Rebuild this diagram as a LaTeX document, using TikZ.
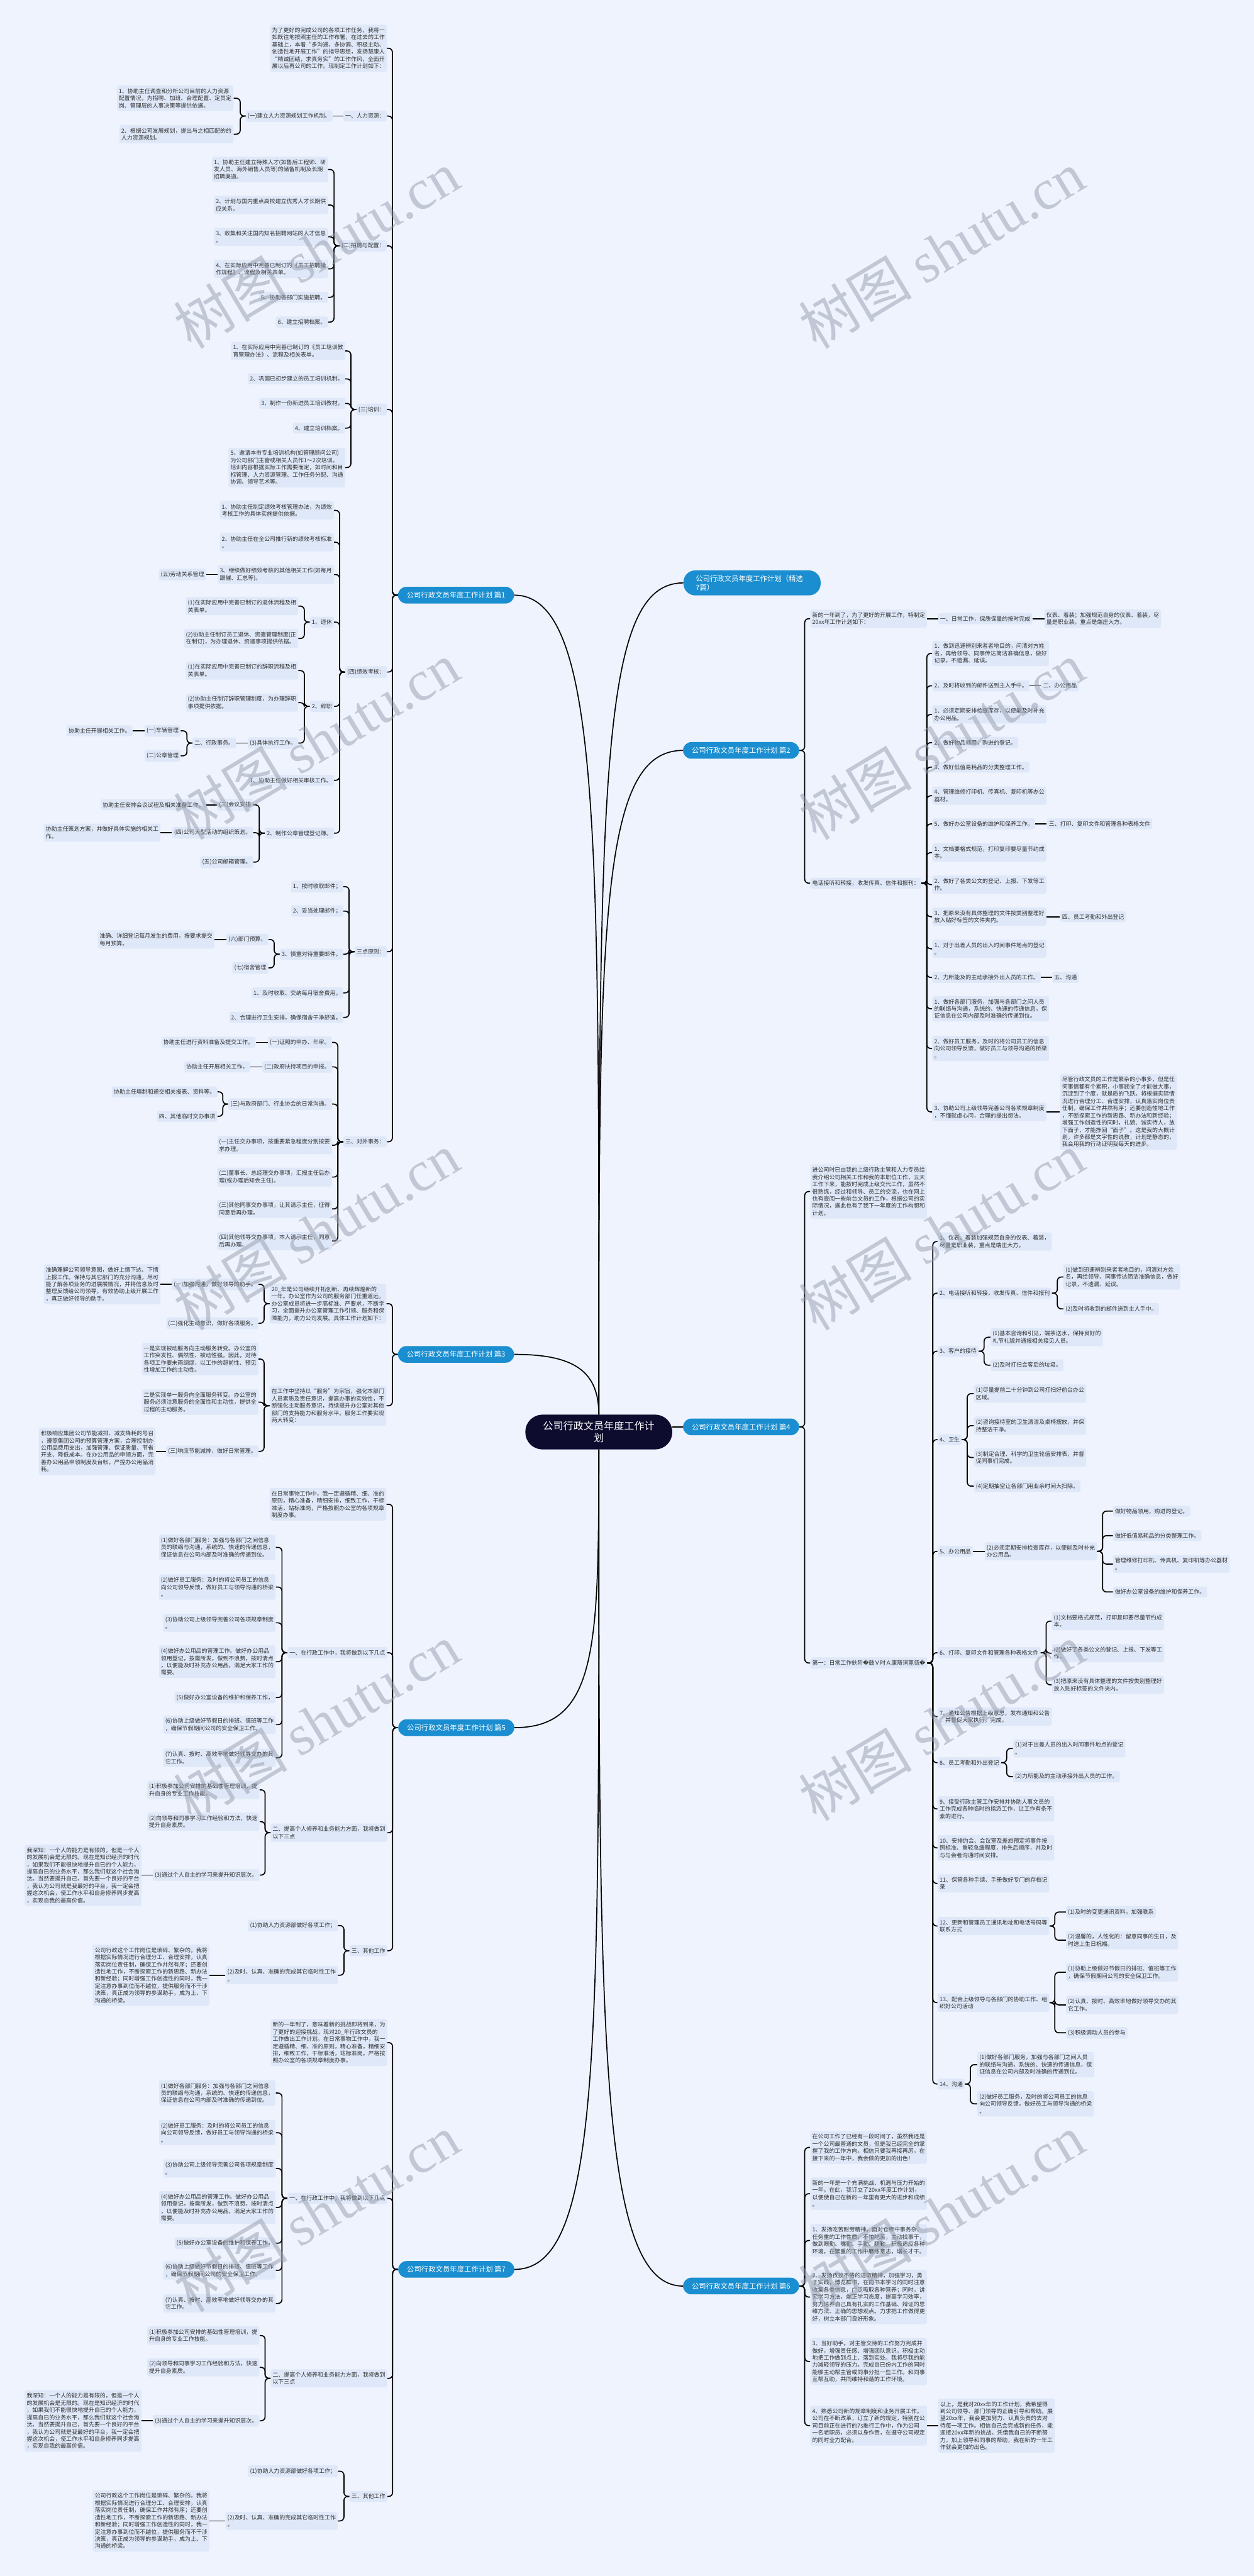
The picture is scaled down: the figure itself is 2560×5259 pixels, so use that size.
\documentclass[tikz,border=0pt]{standalone}
\usepackage{fontspec}
\setmainfont{Noto Sans CJK SC}
\newfontfamily\repfont{DejaVu Sans}
\newfontfamily\wmfont{Liberation Serif}
\usetikzlibrary{positioning}
\definecolor{pagebg}{RGB}{238,243,253}
\definecolor{boxfill}{RGB}{223,232,248}
\definecolor{textgray}{RGB}{48,48,48}
\definecolor{branchblue}{RGB}{26,142,208}
\definecolor{rootnavy}{RGB}{13,11,46}
\definecolor{wmgray}{RGB}{150,156,172}
\tikzset{
  leafbox/.style={fill=boxfill,text=textgray,rounded corners=2pt,inner xsep=2pt,inner ysep=2.9pt,align=left,font=\fontsize{5.75}{7.35}\selectfont},
  lleaf/.style={leafbox,anchor=east},
  rleaf/.style={leafbox,anchor=west},
  pillbox/.style={fill=branchblue,text=white,rounded corners=8.5pt,minimum width=118.5pt,minimum height=17pt,inner sep=0pt,font=\fontsize{7.3}{9}\selectfont},
  rootbox/.style={fill=rootnavy,text=white,rounded corners=17.5pt,minimum width=150pt,minimum height=35.5pt,align=center,font=\fontsize{10.35}{12.5}\selectfont},
  link/.style={draw=black,line width=1.1pt,rounded corners=4pt},
  wmark/.style={text=wmgray,opacity=0.5,rotate=31,inner sep=0pt,font=\fontsize{58}{60}\selectfont}
}
% bracket links: parent right of its children, or left of them
\newcommand{\leftlinks}[2]{\foreach \ch in {#2} {\draw[link] (#1.west) -- ++(-11,0) |- (\ch.east);}}
\newcommand{\rightlinks}[2]{\foreach \ch in {#2} {\draw[link] (#1.east) -- ++(11,0) |- (\ch.west);}}
% the part that plan 5 and plan 7 share
\newcommand{\worktail}[3]{%
  \begin{scope}[yshift=#3]
    \node[lleaf] (#1a) at (791,3374) {一、在行政工作中，我将做到以下几点};
    \node[lleaf] (#1a1) at (563,3159) {(1)做好各部门服务：加强与各部门之间信息\\员的联络与沟通，系统的、快速的传递信息，\\保证信息在公司内部及时准确的传递到位。};
    \node[lleaf] (#1a2) at (563,3240) {(2)做好员工服务：及时的将公司员工的信息\\向公司领导反馈，做好员工与领导沟通的桥梁\\。};
    \node[lleaf] (#1a3) at (563,3313) {(3)协助公司上级领导完善公司各项规章制度\\。};
    \node[lleaf] (#1a4) at (563,3392.5) {(4)做好办公用品的管理工作。做好办公用品\\领用登记，按需所发，做到不浪费，按时清点\\，以便能及时补充办公用品，满足大家工作的\\需要。};
    \node[lleaf] (#1a5) at (563,3465.5) {(5)做好办公室设备的维护和保养工作，};
    \node[lleaf] (#1a6) at (563,3521) {(6)协助上级做好节假日的排班、值班等工作\\，确保节假期间公司的安全保卫工作。};
    \node[lleaf] (#1a7) at (563,3588.5) {(7)认真、按时、高效率地做好领导交办的其\\它工作。};
    \node[lleaf] (#1b) at (791,3741.5) {二、提高个人修养和业务能力方面，我将做到\\以下三点};
    \node[lleaf] (#1b1) at (530,3654) {(1)积极参加公司安排的基础性管理培训，提\\升自身的专业工作技能。};
    \node[lleaf] (#1b2) at (530,3719) {(2)向领导和同事学习工作经验和方法，快速\\提升自身素质。};
    \node[lleaf] (#1b3) at (530,3828) {(3)通过个人自主的学习来提升知识层次。};
    \node[lleaf] (#1b4) at (289,3828.5) {我深知：一个人的能力是有限的，但是一个人\\的发展机会是无限的。现在是知识经济的时代\\，如果我们不能很快地提升自已的个人能力，\\提高自已的业务水平，那么我们就这个社会淘\\汰。当然要提升自己，首先要一个良好的平台\\，我认为公司就是我最好的平台，我一定会把\\握这次机会，使工作水平和自身修养同步提高\\，实现自我的最高价值。};
    \node[lleaf] (#1c) at (791,3982.5) {三、其他工作};
    \node[lleaf] (#1c1) at (690,3931) {(1)协助人力资源部做好各项工作；};
    \node[lleaf] (#1c2) at (690,4032.5) {(2)及时、认真、准确的完成其它临时性工作\\。};
    \node[lleaf] (#1c3) at (428,4032.5) {公司行政这个工作岗位是琐碎、繁杂的。我将\\根据实际情况进行合理分工、合理安排，认真\\落实岗位责任制，确保工作井然有序；还要创\\造性地工作，不断探索工作的新思路、新办法\\和新经验；同时增强工作创造性的同时，我一\\定注意办事到位而不越位，提供服务而不干涉\\决策，真正成为领导的参谋助手，成为上、下\\沟通的桥梁。};
  \end{scope}
  \leftlinks{#2}{#1a,#1b,#1c}
  \leftlinks{#1a}{#1a1,#1a2,#1a3,#1a4,#1a5,#1a6,#1a7}
  \leftlinks{#1b}{#1b1,#1b2,#1b3}
  \draw[link] (#1b3.west) -- (#1b3.west -| #1b4.east);
  \leftlinks{#1c}{#1c1,#1c2}
  \draw[link] (#1c2.west) -- (#1c2.west -| #1c3.east);
}

\begin{document}
\begin{tikzpicture}[x=0.5pt,y=-0.5pt]
  \useasboundingbox (0,0) rectangle (2560,5259);
  \fill[pagebg] (0,0) rectangle (2560,5259);

  % centre and the eight plans
  \node[rootbox] (root) at (1222.5,2923.5) {公司行政文员年度工作计\\划};
  \node[pillbox] (p1) at (931,1215) {公司行政文员年度工作计划 篇1};
  \node[pillbox] (p3) at (931,2765) {公司行政文员年度工作计划 篇3};
  \node[pillbox] (p5) at (931.5,3527) {公司行政文员年度工作计划 篇5};
  \node[pillbox] (p7) at (931.5,4633) {公司行政文员年度工作计划 篇7};
  \node[pillbox,anchor=west,align=left,text width=115pt,inner xsep=12.5pt,minimum height=25.5pt,rounded corners=12pt] (psel) at (1395,1190) {公司行政文员年度工作计划（精选\\7篇）};
  \node[pillbox] (p2) at (1513,1532) {公司行政文员年度工作计划 篇2};
  \node[pillbox] (p4) at (1513,2913) {公司行政文员年度工作计划 篇4};
  \node[pillbox] (p6) at (1513,4667) {公司行政文员年度工作计划 篇6};
  \draw[link] (root.north) .. controls +(0,-1150) and +(180,0) .. (p1.east);
  \draw[link] (root.north) .. controls +(0,-90) and +(120,0) .. (p3.east);
  \draw[link] (root.south) .. controls +(0,400) and +(170,0) .. (p5.east);
  \draw[link] (root.south) .. controls +(0,1200) and +(180,0) .. (p7.east);
  \draw[link] (root.north) .. controls +(0,-1300) and +(-170,0) .. (psel.west);
  \draw[link] (root.north) .. controls +(0,-1000) and +(-170,0) .. (p2.west);
  \draw[link] (root.east |- p4.west) -- (p4.west);
  \draw[link] (root.south) .. controls +(0,1200) and +(-170,0) .. (p6.west);

  % plan 1
  \node[lleaf] (a0) at (790,98.5) {为了更好的完成公司的各项工作任务，我将一\\如既往地按照主任的工作布署，在过去的工作\\基础上，本着“多沟通、多协调、积极主动、\\创造性地开展工作”的指导思想，发扬慧康人\\“精诚团结，求真务实”的工作作风，全面开\\展以后再公司的工作。现制定工作计划如下：};
  \node[lleaf] (a1) at (790,237) {一、人力资源：};
  \node[lleaf] (a11) at (679,237) {(一)建立人力资源规划工作机制。};
  \node[lleaf] (a111) at (477,200.5) {1、协助主任调查和分析公司目前的人力资源\\配置情况，为招聘、加班、合理配置、定员定\\岗、管理层的人事决策等提供依据。};
  \node[lleaf] (a112) at (477,274) {2、根据公司发展规划，提出与之相匹配的的\\人力资源规划。};
  \node[lleaf] (a2) at (790,502) {(二)招聘与配置：};
  \node[lleaf] (a21) at (670,346) {1、协助主任建立特殊人才(如售后工程师、研\\发人员、海外销售人员等)的储备机制及长期\\招聘渠道。};
  \node[lleaf] (a22) at (670,418.5) {2、计划与国内重点高校建立优秀人才长期供\\应关系。};
  \node[lleaf] (a23) at (670,483.5) {3、收集和关注国内知名招聘网站的人才信息\\。};
  \node[lleaf] (a24) at (670,549) {4、在实际应用中完善已制订的《员工招聘操\\作规程》、流程及相关表单。};
  \node[lleaf] (a25) at (670,607) {5、协助各部门实施招聘。};
  \node[lleaf] (a26) at (670,657.5) {6、建立招聘档案。};
  \node[lleaf] (a3) at (790,836) {(三)培训：};
  \node[lleaf] (a31) at (705,716.5) {1、在实际应用中完善已制订的《员工培训教\\育管理办法》、流程及相关表单。};
  \node[lleaf] (a32) at (705,773.5) {2、巩固已初步建立的员工培训机制。};
  \node[lleaf] (a33) at (705,823.5) {3、制作一份新进员工培训教材。};
  \node[lleaf] (a34) at (705,874) {4、建立培训档案。};
  \node[lleaf] (a35) at (705,954.5) {5、邀请本市专业培训机构(如管理顾问公司)\\为公司部门主管或相关人员作1～2次培训。\\培训内容根据实际工作需要而定，如时间和目\\标管理、人力资源管理、工作任务分配、沟通\\协调、领导艺术等。};
  \node[lleaf] (a4) at (790,1372) {(四)绩效考核：};
  \node[lleaf] (a41) at (682,1042) {1、协助主任制定绩效考核管理办法，为绩效\\考核工作的具体实施提供依据。};
  \node[lleaf] (a42) at (682,1107) {2、协助主任在全公司推行新的绩效考核标准\\。};
  \node[lleaf] (a43) at (682,1173) {3、继续做好绩效考核的其他相关工作(如每月\\跟催、汇总等)。};
  \node[lleaf] (a431) at (421,1173) {(五)劳动关系管理};
  \node[lleaf] (a44) at (682,1270) {1、退休};
  \node[lleaf] (a441) at (609,1237.5) {(1)在实际应用中完善已制订的退休流程及相\\关表单。};
  \node[lleaf] (a442) at (609,1303.5) {(2)协助主任制订员工退休、资遣管理制度(正\\在制订)，为办理退休、资遣事项提供依据。};
  \node[lleaf] (a45) at (682,1442) {2、辞职};
  \node[lleaf] (a451) at (609,1369) {(1)在实际应用中完善已制订的辞职流程及相\\关表单。};
  \node[lleaf] (a452) at (609,1434.5) {(2)协助主任制订辞职管理制度，为办理辞职\\事项提供依据。};
  \node[lleaf] (a453) at (609,1517) {(3)具体执行工作。};
  \node[lleaf] (a454) at (482,1517) {二、行政事务。};
  \node[lleaf] (a455) at (369,1492) {(一)车辆管理};
  \node[lleaf] (a456) at (271,1492) {协助主任开展相关工作。};
  \node[lleaf] (a457) at (369,1543) {(二)公章管理};
  \node[lleaf] (a46) at (682,1593) {1、协助主任做好相关审核工作。};
  \node[lleaf] (a47) at (682,1701) {2、制作公章管理登记簿。};
  \node[lleaf] (a471) at (517,1643) {(三)会议安排};
  \node[lleaf] (a4711) at (421,1643) {协助主任安排会议议程及相关准备工作。};
  \node[lleaf] (a472) at (517,1700) {(四)公司大型活动的组织策划。};
  \node[lleaf] (a4721) at (328,1700) {协助主任策划方案，并做好具体实施的相关工\\作。};
  \node[lleaf] (a473) at (517,1760) {(五)公司邮箱管理。};
  \node[lleaf] (a5) at (790,1943) {三点原则：};
  \node[lleaf] (a51) at (701,1810) {1、按时收取邮件；};
  \node[lleaf] (a52) at (701,1860) {2、妥当处理邮件；};
  \node[lleaf] (a53) at (701,1948) {3、慎重对待重要邮件。};
  \node[lleaf] (a531) at (548,1918) {(六)部门预算。};
  \node[lleaf] (a5311) at (438,1918) {准确、详细登记每月发生的费用，按要求提交\\每月预算。};
  \node[lleaf] (a532) at (548,1976) {(七)宿舍管理};
  \node[lleaf] (a54) at (701,2027) {1、及时收取、交纳每月宿舍费用。};
  \node[lleaf] (a55) at (701,2077) {2、合理进行卫生安排，确保宿舍干净舒适。};
  \node[lleaf] (a6) at (790,2331) {三、对外事务：};
  \node[lleaf] (a61) at (678,2128) {(一)证照的申办、年审。};
  \node[lleaf] (a611) at (522,2128) {协助主任进行资料准备及提交工作。};
  \node[lleaf] (a62) at (678,2178) {(二)政府扶持项目的申报。};
  \node[lleaf] (a621) at (511,2178) {协助主任开展相关工作。};
  \node[lleaf] (a63) at (678,2254) {(三)与政府部门、行业协会的日常沟通。};
  \node[lleaf] (a631) at (444,2229) {协助主任填制和递交相关报表、资料等。};
  \node[lleaf] (a632) at (444,2279) {四、其他临时交办事项};
  \node[lleaf] (a64) at (678,2338) {(一)主任交办事项，按重要紧急程度分别按要\\求办理。};
  \node[lleaf] (a65) at (678,2403) {(二)董事长、总经理交办事项，汇报主任后办\\理(或办理后知会主任)。};
  \node[lleaf] (a66) at (678,2468) {(三)其他同事交办事项，让其请示主任，征得\\同意后再办理。};
  \node[lleaf] (a67) at (678,2533.5) {(四)其他领导交办事项，本人请示主任，同意\\后再办理。};
  \leftlinks{p1}{a0,a1,a2,a3,a4,a5,a6}
  \draw[link] (a1.west) -- (a1.west -| a11.east);
  \leftlinks{a11}{a111,a112}
  \leftlinks{a2}{a21,a22,a23,a24,a25,a26}
  \leftlinks{a3}{a31,a32,a33,a34,a35}
  \leftlinks{a4}{a41,a42,a43,a44,a45,a46,a47}
  \draw[link] (a43.west) -- (a43.west -| a431.east);
  \leftlinks{a44}{a441,a442}
  \leftlinks{a45}{a451,a452,a453}
  \draw[link] (a453.west) -- (a453.west -| a454.east);
  \leftlinks{a454}{a455,a457}
  \draw[link] (a455.west) -- (a455.west -| a456.east);
  \leftlinks{a47}{a471,a472,a473}
  \draw[link] (a471.west) -- (a471.west -| a4711.east);
  \draw[link] (a472.west) -- (a472.west -| a4721.east);
  \leftlinks{a5}{a51,a52,a53,a54,a55}
  \leftlinks{a53}{a531,a532}
  \draw[link] (a531.west) -- (a531.west -| a5311.east);
  \leftlinks{a6}{a61,a62,a63,a64,a65,a66,a67}
  \draw[link] (a61.west) -- (a61.west -| a611.east);
  \draw[link] (a62.west) -- (a62.west -| a621.east);
  \leftlinks{a63}{a631,a632}

  % plan 3
  \node[lleaf] (c1) at (789,2661.5) {20\_年是公司继续开拓创新、再续辉煌新的\\一年。办公室作为公司的服务部门任重道远，\\办公室成员将进一步高标准、严要求，不断学\\习，全面提升办公室管理工作引领、服务和保\\障能力，助力公司发展。具体工作计划如下：};
  \node[lleaf] (c11) at (528,2622) {(一)加强沟通，做好领导的助手。};
  \node[lleaf] (c111) at (328,2622) {准确理解公司领导意图，做好上情下达、下情\\上报工作。保持与其它部门的充分沟通，尽可\\能了解各项业务的进展展情况，并将信息及时\\整理反馈给公司领导，有效协助上级开展工作\\，真正做好领导的助手。};
  \node[lleaf] (c12) at (528,2701.5) {(二)强化主动意识，做好各项服务。};
  \node[lleaf] (c2) at (789,2870) {在工作中坚持以“服务”为宗旨，强化本部门\\人员素质及责任意识，提高办事的实效性，不\\断强化主动服务意识，持续提升办公室对其他\\部门的支持能力和服务水平。服务工作要实现\\两大转变：};
  \node[lleaf] (c21) at (528,2774.5) {一是实现被动服务向主动服务转变。办公室的\\工作突发性、偶然性、被动性强。因此，对待\\各项工作要未雨绸缪，以工作的超前性、预见\\性增加工作的主动性。};
  \node[lleaf] (c22) at (528,2862.5) {二是实现单一服务向全面服务转变。办公室的\\服务必须注意服务的全面性和主动性，提供全\\过程的主动服务。};
  \node[lleaf] (c23) at (528,2963) {(三)响应节能减排，做好日常管理。};
  \node[lleaf] (c231) at (318,2963) {积极响应集团公司节能减排、减支降耗的号召\\，遵照集团公司的预算管理方案，合理控制办\\公用品费用支出，加强管理、保证质量、节省\\开支、降低成本。在办公用品的申领方面，完\\善办公用品申领制度及台帐，严控办公用品消\\耗。};
  \leftlinks{p3}{c1,c2}
  \leftlinks{c1}{c11,c12}
  \draw[link] (c11.west) -- (c11.west -| c111.east);
  \leftlinks{c2}{c21,c22,c23}
  \draw[link] (c23.west) -- (c23.west -| c231.east);

  % plan 5 and plan 7
  \node[lleaf] (e0) at (789,3071) {在日常事物工作中，我一定遵循精、细、准的\\原则，精心准备，精细安排，细致工作，干标\\准活，站标准岗，严格按照办公室的各项规章\\制度办事。};
  \leftlinks{p5}{e0}
  \worktail{e}{p5}{0pt}
  \node[lleaf] (g0) at (791,4170) {新的一年到了，意味着新的挑战即将到来，为\\了更好的迎接挑战，现对20\_年行政文员的\\工作做出工作计划。在日常事物工作中，我一\\定遵循精、细、准的原则，精心准备，精细安\\排，细致工作，干标准活，站标准岗，严格按\\照办公室的各项规章制度办事。};
  \leftlinks{p7}{g0}
  \worktail{g}{p7}{-557pt}

  % plan 2
  \node[rleaf] (b1) at (1654,1263) {新的一年到了，为了更好的开展工作，特制定\\20xx年工作计划如下：};
  \node[rleaf] (b11) at (1915,1263) {一、日常工作，保质保量的按时完成};
  \node[rleaf] (b12) at (2132,1263) {仪表、着装；加强规范自身的仪表、着装，尽\\量是职业装，重点是端庄大方。};
  \node[rleaf] (b2) at (1654,1803) {电话接听和转接，收发传真、信件和报刊：};
  \node[rleaf] (b2a) at (1903,1334) {1、做到迅速辨别来者者地目的，问清对方姓\\名，再给领导、同事传达简洁准确信息，做好\\记录，不遗漏、延误。};
  \node[rleaf] (b2b) at (1903,1400) {2、及时将收到的邮件送到主人手中。};
  \node[rleaf] (b2b1) at (2125,1400) {二、办公用品};
  \node[rleaf] (b2c) at (1903,1458.5) {1、必须定期安排检查库存，以便能及时补充\\办公用品。};
  \node[rleaf] (b2d) at (1903,1516) {2、做好物品领用，购进的登记。};
  \node[rleaf] (b2e) at (1903,1566) {3、做好低值易耗品的分类整理工作。};
  \node[rleaf] (b2f) at (1903,1624.5) {4、管理维修打印机、传真机、复印机等办公\\器材。};
  \node[rleaf] (b2g) at (1903,1682) {5、做好办公室设备的维护和保养工作。};
  \node[rleaf] (b2g1) at (2137,1682) {三、打印、复印文件和管理各种表格文件};
  \node[rleaf] (b2h) at (1903,1740.5) {1、文档要格式规范，打印复印要尽量节约成\\本。};
  \node[rleaf] (b2i) at (1903,1806) {2、做好了各类公文的登记、上报、下发等工\\作。};
  \node[rleaf] (b2j) at (1903,1871.5) {3、把原来没有具体整理的文件按类别整理好\\放入贴好标签的文件夹内。};
  \node[rleaf] (b2j1) at (2164,1871.5) {四、员工考勤和外出登记};
  \node[rleaf] (b2k) at (1903,1937) {1、对于出差人员的出入时间事件地点的登记\\。};
  \node[rleaf] (b2l) at (1903,1995.5) {2、力所能及的主动承接外出人员的工作。};
  \node[rleaf] (b2l1) at (2148,1995.5) {五、沟通};
  \node[rleaf] (b2m) at (1903,2059.5) {1、做好各部门服务，加强与各部门之间人员\\的联络与沟通，系统的、快速的传递信息，保\\证信息在公司内部及时准确的传递到位。};
  \node[rleaf] (b2n) at (1903,2140.5) {2、做好员工服务，及时的将公司员工的信息\\向公司领导反馈，做好员工与领导沟通的桥梁\\。};
  \node[rleaf] (b2o) at (1903,2270) {3、协助公司上级领导完善公司各项规章制度\\，不懂就虚心问，合理的提出想法。};
  \node[rleaf] (b2o1) at (2164,2270) {尽管行政文员的工作是繁杂的小事多，但是任\\何事情都有个累积，小事顾全了才能做大事，\\沉淀到了个度，就是质的飞跃。将根据实际情\\况进行合理分工、合理安排，认真落实岗位责\\任制，确保工作井然有序；还要创造性地工作\\，不断探索工作的新思路、新办法和新经验；\\增强工作创造性的同时，礼貌、诚实待人，放\\下面子，才能挣回“面子”。这是我的大概计\\划，许多都是文字性的说教，计划是静态的，\\我会用我的行动证明我每天的进步。};
  \rightlinks{p2}{b1,b2}
  \draw[link] (b1.east) -- (b1.east -| b11.west);
  \draw[link] (b11.east) -- (b11.east -| b12.west);
  \rightlinks{b2}{b2a,b2b,b2c,b2d,b2e,b2f,b2g,b2h,b2i,b2j,b2k,b2l,b2m,b2n,b2o}
  \foreach \ch in {b,g,j,l,o} \draw[link] (b2\ch.east) -- (b2\ch.east -| b2\ch1.west);

  % plan 4
  \node[rleaf] (d1) at (1654,2432.5) {进公司时已由我的上级行政主管和人力专员给\\我介绍公司相关工作和我的本职位工作，五天\\工作下来，能按时完成上级交代工作，虽然不\\很熟练，经过和领导、员工的交流，也在网上\\也有查阅一些前台文员的工作，根据公司的实\\际情况，据此也有了我下一年度的工作构想和\\计划。};
  \node[rleaf] (d2) at (1654,3395) {第一：日常工作鈥阶{\repfont �}鼓Ｖ时Ａ康陭词蓖瓴{\repfont �}};
  \node[rleaf] (d2a) at (1914,2534.5) {1、仪表、着装加强规范自身的仪表、着装，\\尽量是职业装，重点是端庄大方。};
  \node[rleaf] (d2b) at (1914,2640) {2、电话接听和转接，收发传真、信件和报刊};
  \node[rleaf] (d2b1) at (2171,2607) {(1)做到迅速辨别来者者地目的，问清对方姓\\名，再给领导、同事传达简洁准确信息，做好\\记录，不遗漏、延误。};
  \node[rleaf] (d2b2) at (2171,2672) {(2)及时将收到的邮件送到主人手中。};
  \node[rleaf] (d2c) at (1914,2758.5) {3、客户的接待};
  \node[rleaf] (d2c1) at (2022,2730) {(1)基本咨询和引见，端茶送水，保持良好的\\礼节礼貌并通报相关接见人员。};
  \node[rleaf] (d2c2) at (2022,2787) {(2)及时打扫会客后的垃圾。};
  \node[rleaf] (d2d) at (1914,2939) {4、卫生};
  \node[rleaf] (d2d1) at (1988,2845) {(1)尽量提前二十分钟到公司打扫好前台办公\\区域。};
  \node[rleaf] (d2d2) at (1988,2910.5) {(2)咨询接待室的卫生清洁及桌椅摆放，并保\\持整洁干净。};
  \node[rleaf] (d2d3) at (1988,2975.5) {(3)制定合理、科学的卫生轮值安排表，并督\\促同事们完成。};
  \node[rleaf] (d2d4) at (1988,3034) {(4)定期抽空让各部门用业余时间大扫除。};
  \node[rleaf] (d2e) at (1914,3167) {5、办公用品};
  \node[rleaf] (d2e1) at (2010,3167) {(2)必须定期安排检查库存，以便能及时补充\\办公用品。};
  \node[rleaf] (d2e1a) at (2272,3085) {做好物品领用，购进的登记。};
  \node[rleaf] (d2e1b) at (2272,3135) {做好低值易耗品的分类整理工作。};
  \node[rleaf] (d2e1c) at (2272,3193) {管理维修打印机、传真机、复印机等办公器材\\。};
  \node[rleaf] (d2e1d) at (2272,3250) {做好办公室设备的维护和保养工作。};
  \node[rleaf] (d2f) at (1914,3374) {6、打印、复印文件和管理各种表格文件};
  \node[rleaf] (d2f1) at (2147,3309.5) {(1)文档要格式规范，打印复印要尽量节约成\\本。};
  \node[rleaf] (d2f2) at (2147,3375) {(2)做好了各类公文的登记、上报、下发等工\\作。};
  \node[rleaf] (d2f3) at (2147,3439.5) {(3)把原来没有具体整理的文件按类别整理好\\放入贴好标签的文件夹内。};
  \node[rleaf] (d2g) at (1914,3504.5) {7、通知公告根据上级意思，发布通知和公告\\，并督促大家执行，完成。};
  \node[rleaf] (d2h) at (1914,3598.5) {8、员工考勤和外出登记};
  \node[rleaf] (d2h1) at (2068,3569.5) {(1)对于出差人员的出入时间事件地点的登记\\。};
  \node[rleaf] (d2h2) at (2068,3627) {(2)力所能及的主动承接外出人员的工作。};
  \node[rleaf] (d2i) at (1914,3693) {9、接受行政主管工作安排并协助人事文员的\\工作完成各种临时的指派工作，让工作有条不\\紊的进行。};
  \node[rleaf] (d2j) at (1914,3772.5) {10、安排约会、会议室及差旅预定将事件按\\照标准、重轻急缓程度，排先后顺序，并及时\\与与会者沟通时间安排。};
  \node[rleaf] (d2k) at (1914,3845) {11、保管各种手续、手册做好专门的存档记\\录};
  \node[rleaf] (d2l) at (1914,3932) {12、更新和管理员工通讯地址和电话号码等\\联系方式};
  \node[rleaf] (d2l1) at (2176,3903.5) {(1)及时的变更通讯资料，加强联系};
  \node[rleaf] (d2l2) at (2176,3961) {(2)温馨的，人性化的：留意同事的生日，及\\时送上生日祝福。};
  \node[rleaf] (d2m) at (1914,4088.5) {13、配合上级领导与各部门的协助工作、组\\织好公司活动};
  \node[rleaf] (d2m1) at (2176,4026.5) {(1)协助上级做好节假日的排班、值班等工作\\，确保节假期间公司的安全保卫工作。};
  \node[rleaf] (d2m2) at (2176,4093) {(2)认真、按时、高效率地做好领导交办的其\\它工作。};
  \node[rleaf] (d2m3) at (2176,4150) {(3)积极调动人员的参与};
  \node[rleaf] (d2n) at (1914,4254.5) {14、沟通};
  \node[rleaf] (d2n1) at (1995,4215) {(1)做好各部门服务，加强与各部门之间人员\\的联络与沟通，系统的、快速的传递信息，保\\证信息在公司内部及时准确的传递到位。};
  \node[rleaf] (d2n2) at (1995,4295) {(2)做好员工服务，及时的将公司员工的信息\\向公司领导反馈，做好员工与领导沟通的桥梁\\。};
  \rightlinks{p4}{d1,d2}
  \rightlinks{d2}{d2a,d2b,d2c,d2d,d2e,d2f,d2g,d2h,d2i,d2j,d2k,d2l,d2m,d2n}
  \rightlinks{d2b}{d2b1,d2b2}
  \rightlinks{d2c}{d2c1,d2c2}
  \rightlinks{d2d}{d2d1,d2d2,d2d3,d2d4}
  \draw[link] (d2e.east) -- (d2e.east -| d2e1.west);
  \rightlinks{d2e1}{d2e1a,d2e1b,d2e1c,d2e1d}
  \rightlinks{d2f}{d2f1,d2f2,d2f3}
  \rightlinks{d2h}{d2h1,d2h2}
  \rightlinks{d2l}{d2l1,d2l2}
  \rightlinks{d2m}{d2m1,d2m2,d2m3}
  \rightlinks{d2n}{d2n1,d2n2}

  % plan 6
  \node[rleaf] (f1) at (1654,4384) {在公司工作了已经有一段时间了，虽然我还是\\一个公司最普通的文员，但是我已经完全的掌\\握了我的工作方向。相信只要我再接再厉，在\\接下来的一年中，我会做的更加的出色！};
  \node[rleaf] (f2) at (1654,4478.5) {新的一年是一个充满挑战、机遇与压力开始的\\一年。在此，我订立了20xx年度工作计划，\\以便使自己在新的一年里有更大的进步和成绩\\。};
  \node[rleaf] (f3) at (1654,4574) {1、发扬吃苦耐劳精神。面对仓库中事务杂、\\任务重的工作性质，不怕吃苦，主动找事干，\\做到眼勤、嘴勤、手勤、腿勤，积极适应各种\\环境，在繁重的工作中磨练意志，增长才干。};
  \node[rleaf] (f4) at (1654,4689.5) {2、发扬孜孜不倦的进取精神，加强学习，勇\\于实践，博览群书，在向书本学习的同时注意\\收集各类信息，广泛吸取各种营养；同时，讲\\究学习方法，端正学习态度，提高学习效率，\\努力培养自己具有扎实的工作基础、辩证的思\\维方法、正确的思想观点。力求把工作做得更\\好，树立本部门良好形象。};
  \node[rleaf] (f5) at (1654,4821) {3、当好助手。对主管交待的工作努力完成并\\做好，增强责任感、增强团队意识。积极主动\\地把工作做到点上、落到实处。我将尽我的能\\力减轻领导的压力。完成自已份内工作的同时\\能够主动帮主管或同事分担一些工作。和同事\\互帮互助，共同维持和谐的工作环境。};
  \node[rleaf] (f6) at (1654,4952) {4、熟悉公司新的规章制度和业务开展工作。\\公司在不断改革，订立了新的规定，特别在公\\司目前正在进行的7s推行工作中，作为公司\\一名老职员，必须以身作责，在遵守公司规定\\的同时全力配合。};
  \node[rleaf] (f6a) at (1915,4952) {以上，是我对20xx年的工作计划，我希望得\\到公司领导、部门领导的正确引导和帮助。展\\望20xx年，我会更加努力、认真负责的去对\\待每一项工作。相信自己会完成新的任务，能\\迎接20xx年新的挑战。凭借我自己的不断努\\力，加上领导和同事的帮助，我在新的一年工\\作就会更加的出色。};
  \rightlinks{p6}{f1,f2,f3,f4,f5,f6}
  \draw[link] (f6.east) -- (f6.east -| f6a.west);

  % watermark
  \foreach \wx/\wy [count=\i] in {646/510,646/1512,646/2514,646/3516,646/4518,1922/510,1922/1512,1922/2514,1922/3516,1922/4518}
    \node[wmark] (wm\i) at (\wx,\wy) {树图 {\wmfont shutu.cn}};
\end{tikzpicture}
\end{document}
